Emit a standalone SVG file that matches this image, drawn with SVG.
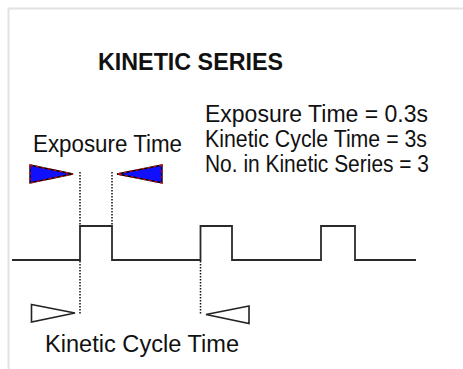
<svg xmlns="http://www.w3.org/2000/svg" width="463" height="369" viewBox="0 0 463 369">
<style>
text{font-family:"Liberation Sans",Arial,sans-serif;fill:#111}
.lbl{font-size:23px}
.title{font-size:24px;font-weight:bold}
.wave{fill:none;stroke:#2a2a2a;stroke-width:1.8}
.dot{stroke:#111;stroke-width:1.5;stroke-dasharray:1.5 1.5}
.blue{fill:#1010ff;stroke:#000;stroke-width:1.4}
.blueEdge{fill:none;stroke:#c01010;stroke-width:1.4;stroke-dasharray:3 3}
.white{fill:#fff;stroke:#222;stroke-width:1.6}
</style>
<rect width="463" height="369" fill="#fff"/>
<path d="M8.5 369 V8.5 H463" fill="none" stroke="#e2e2e2" stroke-width="2"/>
<g id="title"><text class="title" x="98" y="70" textLength="185" lengthAdjust="spacingAndGlyphs">KINETIC SERIES</text></g>
<g id="params">
<text class="lbl" x="205" y="122" textLength="223" lengthAdjust="spacingAndGlyphs">Exposure Time = 0.3s</text>
<text class="lbl" x="205" y="147" textLength="222" lengthAdjust="spacingAndGlyphs">Kinetic Cycle Time = 3s</text>
<text class="lbl" x="205" y="172" textLength="224" lengthAdjust="spacingAndGlyphs">No. in Kinetic Series = 3</text>
</g>
<g id="exposure-label"><text class="lbl" x="33" y="152" textLength="149" lengthAdjust="spacingAndGlyphs">Exposure Time</text></g>
<g id="cycle-label"><text class="lbl" x="45" y="352" textLength="194" lengthAdjust="spacingAndGlyphs">Kinetic Cycle Time</text></g>
<g id="waveform">
<path class="wave" d="M12 260 H80 V226 H112 V260 H200.5 V226 H232 V260 H321 V226 H355 V260 H416"/>
</g>
<g id="connectors">
<line class="dot" x1="80" y1="172" x2="80" y2="226"/>
<line class="dot" x1="112" y1="172" x2="112" y2="226"/>
<line class="dot" x1="80" y1="261" x2="80" y2="314"/>
<line class="dot" x1="200.5" y1="261" x2="200.5" y2="314"/>
</g>
<g id="exposure-arrows">
<polygon class="blue" points="30,165 73,174 30,183"/>
<polygon class="blueEdge" points="30,165 73,174 30,183"/>
<polygon class="blue" points="162,165 117,174 162,183"/>
<polygon class="blueEdge" points="162,165 117,174 162,183"/>
</g>
<g id="cycle-arrows">
<polygon class="white" points="31.5,304.5 75,313 31.5,322"/>
<polygon class="white" points="249,306 206,314.5 249,323.5"/>
</g>
</svg>
